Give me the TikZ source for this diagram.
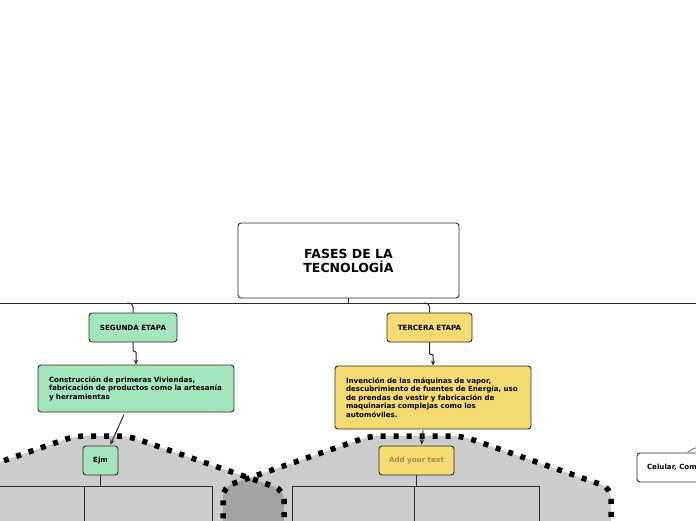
\documentclass[tikz,border=0pt]{standalone}
\usepackage{fontspec}
\setmainfont{DejaVu Sans}
\usetikzlibrary{arrows.meta,positioning,calc}
\definecolor{etapagreen}{HTML}{A5E5BE}
\definecolor{etapayellow}{HTML}{F6DA72}
\definecolor{addtext}{HTML}{9E8C4C}
\definecolor{boxline}{HTML}{2B2B2B}

\begin{document}
\begin{tikzpicture}[x=1pt, y=-1pt, >={Stealth[length=5pt,width=4.5pt]},
    font=\fontsize{7.1}{8.5}\selectfont\bfseries,
    etapa/.style={draw=boxline, line width=0.9pt, rounded corners=3pt, inner sep=0pt},
    grupo/.style={fill=black, fill opacity=0.2, draw=black, draw opacity=1, line width=5.5pt,
                  dash pattern=on 5pt off 8pt, rounded corners=10pt},
    marco/.style={draw=boxline, line width=0.9pt, inner sep=0pt},
    link/.style={draw=boxline, line width=1pt}]
    \fill[white] (0,0) rectangle (696,520);
    \clip (0,0) rectangle (696,520);

    % grupos
    \path[grupo] (-30,472.4) -- (75,436) -- (128,436) -- (284,490) -- (284,540) -- (-30,540) -- cycle;
    \path[grupo] (223,487) -- (370,436) -- (462,436) -- (611,488) -- (611,540) -- (223,540) -- cycle;

    % nodos
    \node[etapa, fill=white, minimum width=221pt, minimum height=75pt, align=center,
          font=\fontsize{12.5}{14}\selectfont\bfseries] (fases) at (348.5,260.5) {FASES DE LA\\TECNOLOGÍA};
    \node[etapa, fill=etapagreen, minimum width=88pt, minimum height=29pt] (segunda) at (133,327.5) {SEGUNDA ETAPA};
    \node[etapa, fill=etapayellow, minimum width=85pt, minimum height=29pt] (tercera) at (429.5,327.5) {TERCERA ETAPA};
    \node[etapa, fill=etapagreen, minimum width=196pt, minimum height=47pt, text width=174pt, align=left]
          (construccion) at (136,388.5) {Construcción de primeras Viviendas,\\fabricación de productos como la artesanía\\y herramientas};
    \node[etapa, fill=etapayellow, minimum width=196pt, minimum height=63pt, text width=174pt, align=left]
          (invencion) at (433,397.5) {Invención de las máquinas de vapor,\\descubrimiento de fuentes de Energía, uso\\de prendas de vestir y fabricación de\\maquinarias complejas como los\\automóviles.};
    \node[etapa, fill=etapagreen, minimum width=35pt, minimum height=29pt] (ejm) at (100.5,460.5) {Ejm};
    \node[etapa, fill=etapayellow, minimum width=75pt, minimum height=29pt, text=addtext] (agregar) at (416.5,460.5) {Add your text};
    \node[etapa, fill=white, minimum width=80pt, minimum height=29pt, text width=60pt, align=left] (celular) at (677,467.5) {Celular, Com};
    \node[etapa, fill=white, minimum width=100pt, minimum height=62pt] (cuarta) at (746.5,397) {};

    \node[marco, minimum width=114pt, minimum height=60pt] (ejmA) at (27,516) {};
    \node[marco, minimum width=128pt, minimum height=60pt] (ejmB) at (148,516) {};
    \node[marco, minimum width=122pt, minimum height=60pt] (agregarA) at (353,516) {};
    \node[marco, minimum width=125pt, minimum height=60pt] (agregarB) at (476.5,516) {};

    % conectores
    \coordinate (busW) at (-10,303);
    \coordinate (busE) at (706,303);
    \coordinate (celTop) at (702,446);
    \draw[link] (busW) -- (busE);
    \draw[link] (fases.south) -- (fases.south |- busW);
    \draw[link, rounded corners=4pt] ($(segunda.north |- busW)+(-6,0)$) -| (segunda.north);
    \draw[link, rounded corners=4pt] ($(tercera.north |- busW)+(-6,0)$) -| (tercera.north);
    \draw[link, ->, rounded corners=1pt] (segunda.south) -- ++(0,9) -| (construccion.north);
    \draw[link, ->, rounded corners=1pt] (tercera.south) -- ++(0,12) -| (invencion.north);
    \draw[link, ->] ($(construccion.south)+(-12,2)$) -- ($(ejm.north east)+(-8,-1)$);
    \draw[link, ->] ($(invencion.south)+(-10,1)$) -- ($(agregar.north)+(5,-1)$);
    \draw[link] (ejm.south) -- (ejm.south |- ejmB.north);
    \draw[link] (agregar.south) -- (agregar.south |- agregarB.north);
    \draw[link, draw=gray] ($(celular.north west)+(51,0)$) .. controls +(2,-3) and +(-4,1) .. (celTop);
\end{tikzpicture}
\end{document}
